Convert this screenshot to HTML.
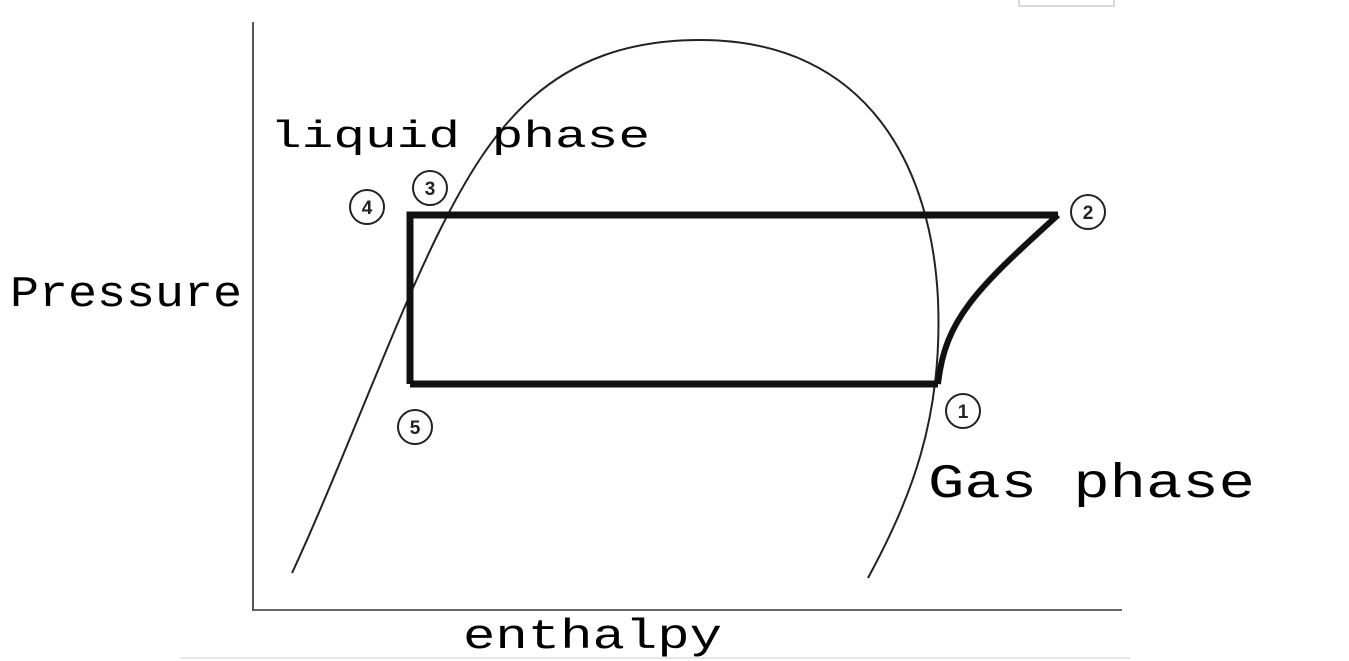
<!DOCTYPE html>
<html><head><meta charset="utf-8"><style>
html,body{margin:0;padding:0;background:#fff;width:1349px;height:661px;overflow:hidden}
svg{display:block}
.t{font-family:"Liberation Mono",monospace;fill:#000}
.n{font-family:"Liberation Sans",sans-serif;font-weight:bold;font-size:19px;fill:#222}
</style></head><body>
<svg width="1349" height="661" viewBox="0 0 1349 661">
<rect x="1019" y="-2" width="95" height="8" fill="#fff" stroke="#ccc" stroke-width="1.5"/>
<line x1="253" y1="22" x2="253" y2="611" stroke="#555" stroke-width="2"/>
<line x1="253" y1="610" x2="1122" y2="610" stroke="#666" stroke-width="2"/>
<line x1="180" y1="658" x2="1130" y2="658" stroke="#e6e6e6" stroke-width="2"/>
<path d="M292,573 C340,470 395,320 440,230 C490,130 550,40 700,40 C870,40 932,170 938,300 C943,420 910,500 868,578" fill="none" stroke="#222" stroke-width="2"/>
<path d="M410,384 L410,215 L1058,215 M410,384 L938,384" fill="none" stroke="#111" stroke-width="7"/>
<path d="M938,384 C945,320 975,290 1058,215" fill="none" stroke="#111" stroke-width="6"/>
<g fill="none" stroke="#222" stroke-width="2">
<circle cx="367" cy="207" r="17"/><circle cx="430" cy="188" r="17"/>
<circle cx="1088" cy="212" r="17"/><circle cx="415" cy="427" r="17"/>
<circle cx="963" cy="411" r="17"/>
</g>
<g text-anchor="middle">
<text class="n" x="367" y="214">4</text><text class="n" x="430" y="195">3</text>
<text class="n" x="1088" y="219">2</text><text class="n" x="415" y="434">5</text>
<text class="n" x="963" y="418">1</text>
</g>
<text class="t" x="270" y="147" font-size="38" textLength="380" lengthAdjust="spacingAndGlyphs">liquid phase</text>
<text class="t" x="928" y="497" font-size="48" textLength="327" lengthAdjust="spacingAndGlyphs">Gas phase</text>
<text class="t" x="10" y="306" font-size="44" textLength="232" lengthAdjust="spacingAndGlyphs">Pressure</text>
<text class="t" x="463" y="648" font-size="42" textLength="259" lengthAdjust="spacingAndGlyphs">enthalpy</text>
</svg>
</body></html>
